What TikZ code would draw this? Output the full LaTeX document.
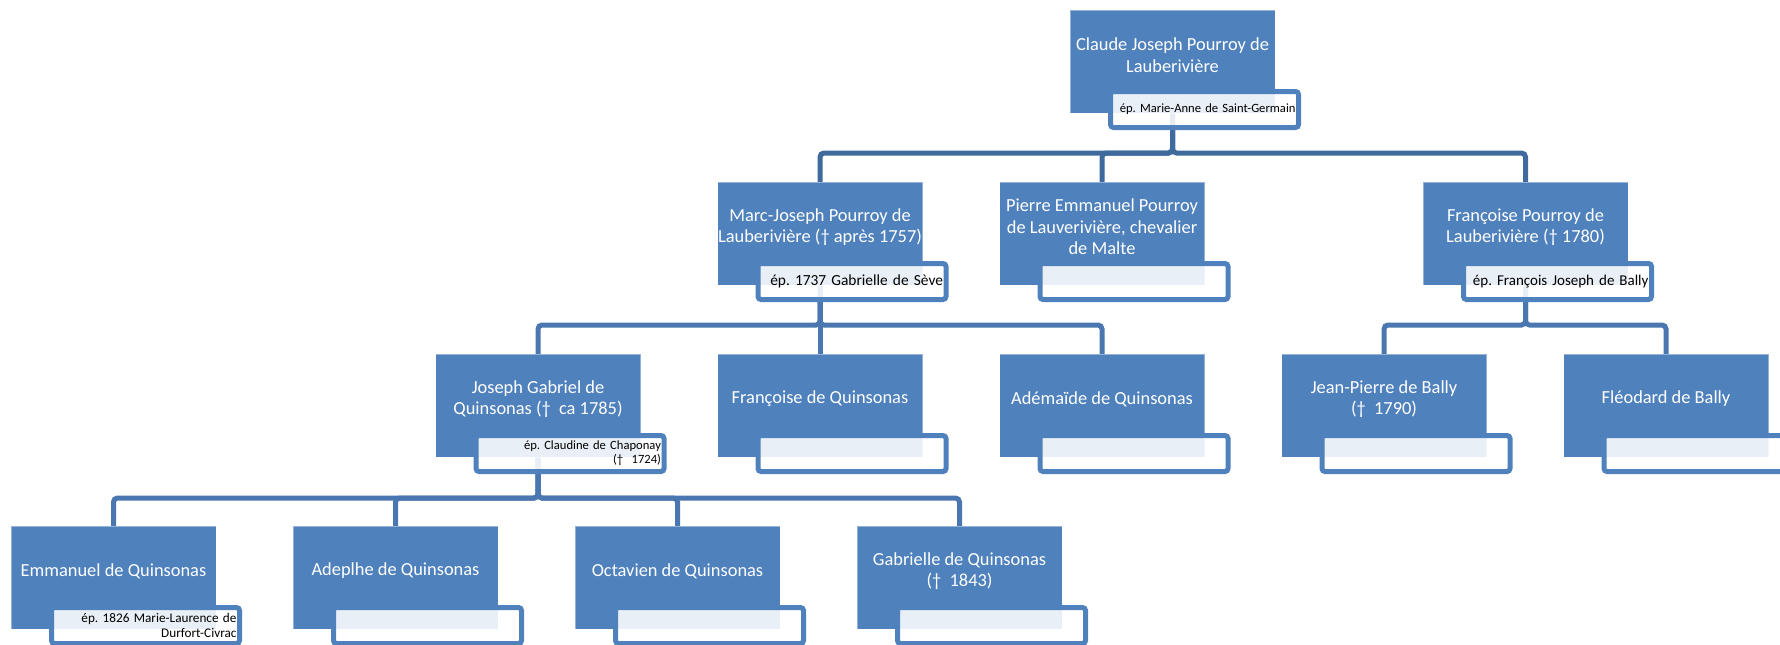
\documentclass[tikz,border=0pt]{standalone}
\usepackage{fontspec}
\setmainfont{Carlito}
\frenchspacing
\usetikzlibrary{positioning,backgrounds}

\definecolor{boxblue}{HTML}{4F81BD}
\definecolor{linkblue}{HTML}{4A77B0}
\definecolor{linkdark}{HTML}{3F6A9D}

\tikzset{
  person/.style={rectangle, fill=boxblue, draw=white, draw opacity=0.4, line width=0.4pt,
    minimum width=102.5pt, minimum height=51.5pt, inner sep=0pt, outer sep=0pt},
  who/.style={text=white, align=center, inner sep=0pt, font=\fontsize{9.2}{10.7}\selectfont},
  spouse/.style={rectangle, draw=boxblue, line width=2.5pt, rounded corners=1.5pt,
    fill=white, fill opacity=0.88, text opacity=1, minimum width=94pt, minimum height=18pt,
    text width=91pt, align=right, inner xsep=1.5pt, inner ysep=0pt, anchor=north west},
  link/.style={draw=linkblue, line width=2.5pt, rounded corners=2pt},
}

\begin{document}
\begin{tikzpicture}[x=0.5pt, y=-0.5pt, node distance=34.5pt and 38.5pt]
  \useasboundingbox (0,0) rectangle (1780,644);
  \clip (0,0) rectangle (1780,644);

  % third row
  \node (E) [person] at (538,405.5) {};
  \node (F) [person, right=of E] {};
  \node (G) [person, right=of F] {};
  \node (H) [person, right=of G] {};
  \node (I) [person, right=of H] {};

  % second row and root
  \node (B) [person, above=of F] {};
  \node (C) [person, above=of G] {};
  \node (D) [person, above=of H, xshift=70.75pt] {};
  \node (A) [person, above=of C, xshift=35.25pt] {};

  % fourth row
  \node (J) [person, below=of E, xshift=-212.25pt] {};
  \node (K) [person, right=of J] {};
  \node (L) [person, right=of K] {};
  \node (M) [person, right=of L] {};

  % names
  \node (At) [who] at ([yshift=-22.5pt]A.north) {Claude Joseph Pourroy de\\Lauberivière};
  \node (Bt) [who] at ([yshift=-22.5pt]B.north) {Marc-Joseph Pourroy de\\Lauberivière († après 1757)};
  \node (Ct) [who] at ([yshift=-22.5pt]C.north) {Pierre Emmanuel Pourroy\\de Lauverivière, chevalier\\de Malte};
  \node (Dt) [who] at ([yshift=-22.5pt]D.north) {Françoise Pourroy de\\Lauberivière († 1780)};
  \node (Et) [who] at ([yshift=-22.5pt]E.north) {Joseph Gabriel de\\Quinsonas (†~ ca 1785)};
  \node (Ft) [who] at ([yshift=-22.5pt]F.north) {Françoise de Quinsonas};
  \node (Gt) [who] at ([yshift=-22.5pt]G.north) {Adémaïde de Quinsonas};
  \node (Ht) [who] at ([yshift=-22.5pt]H.north) {Jean-Pierre de Bally\\(†~ 1790)};
  \node (It) [who] at ([yshift=-22.5pt]I.north) {Fléodard de Bally};
  \node (Jt) [who] at ([yshift=-22.5pt]J.north) {Emmanuel de Quinsonas};
  \node (Kt) [who] at ([yshift=-22.5pt]K.north) {Adeplhe de Quinsonas};
  \node (Lt) [who] at ([yshift=-22.5pt]L.north) {Octavien de Quinsonas};
  \node (Mt) [who] at ([yshift=-22.5pt]M.north) {Gabrielle de Quinsonas\\(†~ 1843)};

  % spouses
  \node (Ap) [spouse, font=\fontsize{6.3}{7.5}\selectfont] at ([xshift=19pt,yshift=-39.5pt]A.north west) {ép. Marie-Anne de Saint-Germain};
  \node (Bp) [spouse, font=\fontsize{7.7}{8.5}\selectfont] at ([xshift=19pt,yshift=-39.5pt]B.north west) {ép. 1737 Gabrielle de Sève};
  \node (Cp) [spouse] at ([xshift=19pt,yshift=-39.5pt]C.north west) {};
  \node (Dp) [spouse, font=\fontsize{7.5}{8.3}\selectfont] at ([xshift=19pt,yshift=-39.5pt]D.north west) {ép. François Joseph de Bally};
  \node (Ep) [spouse, font=\fontsize{6.3}{7}\selectfont] at ([xshift=19pt,yshift=-39.5pt]E.north west) {ép. Claudine de Chaponay\\(†~ 1724)};
  \node (Fp) [spouse] at ([xshift=19pt,yshift=-39.5pt]F.north west) {};
  \node (Gp) [spouse] at ([xshift=19pt,yshift=-39.5pt]G.north west) {};
  \node (Hp) [spouse] at ([xshift=19pt,yshift=-39.5pt]H.north west) {};
  \node (Ip) [spouse] at ([xshift=19pt,yshift=-39.5pt]I.north west) {};
  \node (Jp) [spouse, font=\fontsize{6.6}{7.2}\selectfont] at ([xshift=19pt,yshift=-39.5pt]J.north west) {ép. 1826 Marie-Laurence de\\Durfort-Civrac};
  \node (Kp) [spouse] at ([xshift=19pt,yshift=-39.5pt]K.north west) {};
  \node (Lp) [spouse] at ([xshift=19pt,yshift=-39.5pt]L.north west) {};
  \node (Mp) [spouse] at ([xshift=19pt,yshift=-39.5pt]M.north west) {};

  % links
  \begin{pgfonlayer}{background}
    \foreach \c in {B,C,D}
      \draw [link, draw=linkdark] (A.south) -- ++(0,40) -| (\c.north);
    \foreach \c in {E,F,G}
      \draw [link] (B.south) -- ++(0,40) -| (\c.north);
    \foreach \c in {H,I}
      \draw [link] (D.south) -- ++(0,40) -| (\c.north);
    \foreach \c in {J,K,L,M}
      \draw [link] (E.south) -- ++(0,41) -| (\c.north);
  \end{pgfonlayer}
\end{tikzpicture}
\end{document}
